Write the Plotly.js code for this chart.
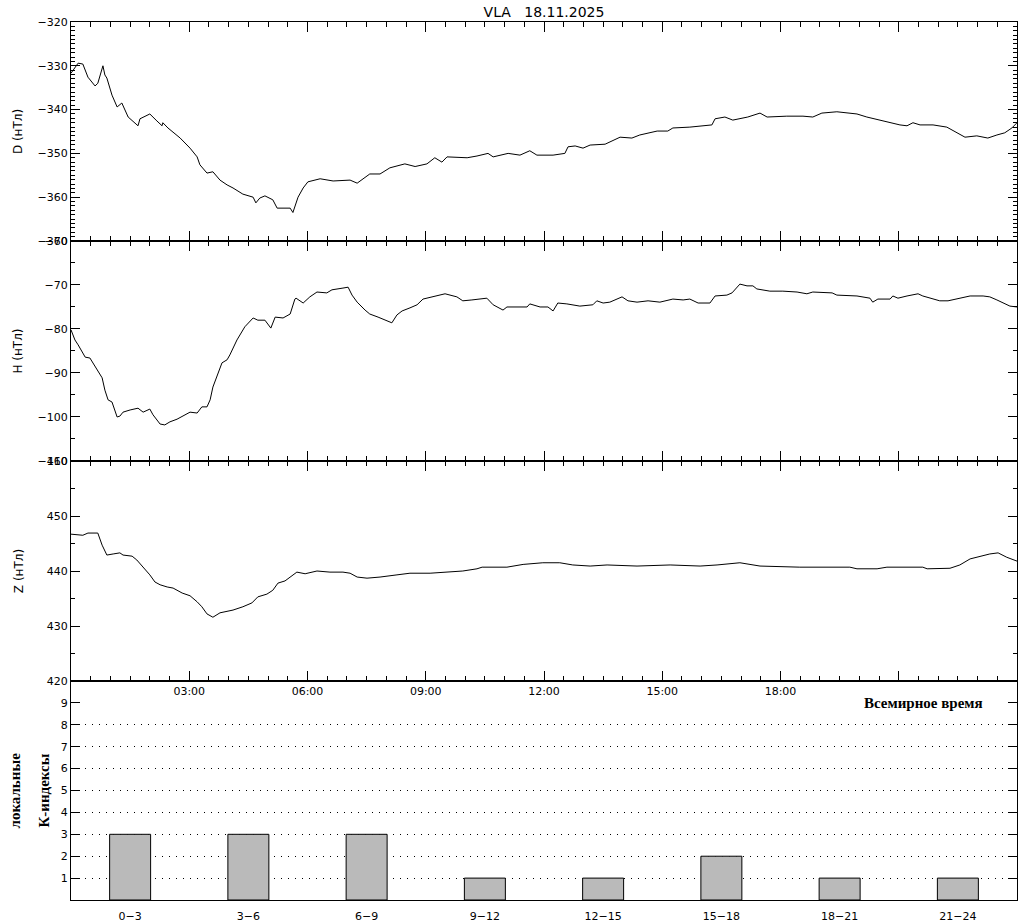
<!DOCTYPE html>
<html>
<head>
<meta charset="utf-8">
<script src="https://cdn.plot.ly/plotly-3.0.1.min.js"></script>
<style>html,body{margin:0;padding:0;background:#fff;}#chart{width:1024px;height:921px;}</style>
</head>
<body>
<div id="chart"></div>
<script>
// ---- data (hours UT, nT) ----
const hoursD = [0.00,0.18,0.30,0.43,0.61,0.68,0.81,0.86,0.91,1.04,1.17,1.29,1.45,1.70,1.75,2.00,2.18,2.31,2.33,2.46,2.77,3.02,3.20,3.27,3.45,3.60,3.78,3.96,4.11,4.36,4.62,4.69,4.79,4.92,5.12,5.23,5.48,5.56,5.63,5.76,5.89,6.01,6.32,6.65,7.08,7.26,7.58,7.84,8.09,8.47,8.73,9.03,9.23,9.41,9.54,10.05,10.30,10.58,10.71,11.09,11.39,11.64,11.82,12.23,12.53,12.61,12.79,12.99,13.17,13.55,13.93,14.23,14.43,14.87,15.14,15.27,15.70,16.13,16.26,16.34,16.59,16.79,17.17,17.48,17.66,18.16,18.57,18.82,19.05,19.43,19.69,19.94,20.19,20.52,20.78,21.03,21.21,21.36,21.54,21.87,22.22,22.48,22.68,22.98,23.26,23.49,23.69,23.87,24.00];
const valsD = [-331.7,-329.4,-329.6,-332.6,-334.6,-334.0,-330.0,-332.1,-332.8,-336.7,-339.4,-338.5,-341.7,-343.7,-342.1,-341.0,-342.6,-343.7,-343.0,-344.2,-346.5,-348.8,-350.8,-352.6,-354.5,-354.2,-356.1,-357.2,-357.9,-359.3,-360.0,-361.3,-360.2,-359.7,-360.6,-362.5,-362.5,-362.5,-363.5,-360.0,-357.9,-356.5,-355.8,-356.3,-356.1,-356.8,-354.7,-354.7,-353.3,-352.4,-353.0,-352.4,-351.0,-352.0,-350.8,-351.0,-350.6,-350.0,-350.8,-350.0,-350.4,-349.4,-350.4,-350.4,-350.0,-348.5,-348.3,-348.8,-348.1,-347.9,-346.3,-346.5,-345.8,-344.9,-344.9,-344.2,-344.0,-343.5,-343.5,-342.1,-341.7,-342.4,-341.7,-340.8,-341.7,-341.5,-341.5,-341.7,-340.8,-340.5,-340.8,-341.0,-341.7,-342.4,-343.0,-343.5,-343.7,-343.0,-343.5,-343.5,-344.0,-345.3,-346.3,-346.0,-346.5,-345.8,-345.3,-344.2,-343.0];

const hoursH = [0.00,0.10,0.18,0.36,0.48,0.61,0.79,0.86,0.94,1.04,1.17,1.24,1.32,1.50,1.70,1.83,2.00,2.08,2.18,2.26,2.38,2.51,2.69,2.84,3.02,3.20,3.32,3.45,3.53,3.60,3.73,3.83,3.96,4.03,4.21,4.41,4.62,4.74,4.92,5.07,5.18,5.38,5.56,5.68,5.71,5.89,6.06,6.24,6.49,6.62,6.90,7.03,7.13,7.26,7.46,7.58,7.79,7.97,8.14,8.27,8.40,8.60,8.78,8.93,9.18,9.49,9.79,9.94,10.17,10.55,10.71,10.96,11.06,11.31,11.57,11.64,11.90,12.10,12.23,12.35,12.58,12.91,13.24,13.34,13.50,13.67,13.98,14.13,14.36,14.64,14.94,15.27,15.53,15.70,15.91,16.21,16.34,16.64,16.77,16.97,17.15,17.30,17.40,17.73,18.06,18.42,18.67,18.82,19.31,19.43,19.94,20.27,20.34,20.47,20.78,20.85,20.98,21.21,21.49,21.61,21.92,22.04,22.25,22.55,22.81,23.14,23.31,23.49,23.64,23.82,24.00];
const valsH = [-80.2,-82.5,-83.6,-86.4,-86.6,-88.6,-91.1,-93.9,-96.1,-96.6,-100.0,-99.8,-98.9,-98.4,-98.0,-98.9,-98.2,-99.5,-100.7,-101.6,-101.8,-101.1,-100.5,-99.8,-98.9,-99.1,-97.7,-97.7,-96.1,-93.2,-90.0,-87.7,-87.0,-85.9,-82.5,-79.5,-77.5,-78.0,-78.0,-79.8,-77.3,-77.5,-76.6,-73.2,-73.0,-74.1,-72.7,-71.6,-71.8,-71.1,-70.7,-70.5,-72.3,-73.9,-75.7,-76.6,-77.3,-78.0,-78.6,-76.8,-75.9,-75.2,-74.5,-73.2,-72.7,-72.0,-72.7,-73.6,-73.4,-73.0,-74.5,-75.7,-75.0,-75.0,-75.0,-74.3,-75.0,-75.0,-75.9,-74.1,-74.3,-74.8,-74.5,-73.6,-74.1,-73.9,-72.7,-73.6,-73.9,-73.6,-73.9,-73.2,-73.4,-73.2,-74.1,-74.1,-72.5,-72.3,-71.8,-69.8,-70.2,-70.2,-70.9,-71.4,-71.4,-71.6,-72.0,-71.6,-71.8,-72.3,-72.5,-73.0,-73.9,-73.2,-73.2,-72.5,-73.0,-72.5,-72.0,-72.5,-73.4,-73.6,-73.6,-73.0,-72.5,-72.5,-72.7,-73.4,-74.1,-74.8,-75.0];

const hoursZ = [0.00,0.30,0.43,0.68,0.79,0.91,1.07,1.24,1.32,1.55,1.67,1.83,2.00,2.13,2.26,2.44,2.59,2.82,3.02,3.20,3.32,3.45,3.60,3.78,3.96,4.11,4.36,4.59,4.74,4.97,5.12,5.25,5.43,5.61,5.73,5.94,6.24,6.57,6.90,7.08,7.26,7.51,7.84,8.27,8.60,9.11,9.61,9.94,10.30,10.43,11.06,11.47,11.97,12.40,12.73,13.17,13.60,14.36,15.20,15.96,16.39,16.97,17.48,18.49,19.76,19.94,20.45,20.70,21.61,21.72,22.30,22.55,22.81,23.06,23.31,23.52,23.74,24.00];
const valsZ = [446.7,446.5,446.9,446.9,444.7,442.9,443.1,443.3,442.9,442.7,442.0,440.7,439.3,438.0,437.5,437.1,436.9,436.0,435.5,434.4,433.5,432.2,431.6,432.4,432.7,432.9,433.5,434.2,435.3,435.8,436.5,437.8,438.2,439.1,439.8,439.5,440.0,439.8,439.8,439.6,438.9,438.7,438.9,439.3,439.6,439.6,439.8,440.0,440.4,440.7,440.7,441.2,441.5,441.5,441.1,440.9,441.1,440.9,441.1,440.9,441.1,441.5,440.9,440.7,440.7,440.4,440.4,440.7,440.7,440.4,440.5,441.1,442.2,442.7,443.1,443.3,442.5,441.8];

const kLabels = ['0\u22123','3\u22126','6\u22129','9\u221212','12\u221215','15\u221218','18\u221221','21\u221224'];
const kMid = [1.5,4.5,7.5,10.5,13.5,16.5,19.5,22.5];
const kValues = [3,3,3,1,1,2,1,1];
const kTicks = [1,2,3,4,5,6,7,8,9];
const kGridLevels = [1,2,3,4,5,6,7,8];

const timeTickVals = [3,6,9,12,15,18,21];
const timeTickText = ['03:00','06:00','09:00','12:00','15:00','18:00',''];

// ---- figure ----
const BLK = 'black';
const tickFont = {family:'DejaVu Sans', size:11, color:BLK};
const titleFont = {family:'DejaVu Sans', size:12, color:BLK};
const serifBold = {family:'Liberation Serif', size:15, color:BLK, weight:'bold'};

function xAxis(anchor, labels) {
  const a = {
    domain:[0,1], anchor:anchor, range:[0,24], showline:true, linecolor:BLK, linewidth:1,
    mirror:'ticks', ticks:'inside', ticklen:10, tickcolor:BLK, tickwidth:1,
    showgrid:false, zeroline:false, tickfont:tickFont,
    minor:{tickmode:'linear', tick0:0, dtick:0.5, ticks:'inside', ticklen:5, tickcolor:BLK, showgrid:false}
  };
  if (labels) { a.tickmode='array'; a.tickvals=timeTickVals; a.ticktext=timeTickText; a.showticklabels=true; }
  else { a.tickmode='linear'; a.tick0=0; a.dtick=3; a.showticklabels=false; }
  return a;
}
function yAxis(anchor, domain, range, dtick, minorDtick, title, standoff) {
  return {
    domain:domain, anchor:anchor, range:range, tickmode:'linear', tick0:range[0], dtick:dtick,
    ticks:'inside', ticklen:9, tickcolor:BLK, mirror:'ticks', showline:true, linecolor:BLK, linewidth:1,
    showgrid:false, zeroline:false, tickfont:tickFont,
    minor:{tickmode:'linear', tick0:range[0], dtick:minorDtick, ticks:'inside', ticklen:4, tickcolor:BLK, showgrid:false},
    title:{text:title, font:titleFont, standoff:standoff}
  };
}

const traces = [
  {type:'scatter', mode:'lines', x:hoursD, y:valsD, xaxis:'x', yaxis:'y', line:{color:BLK, width:1}, hoverinfo:'skip'},
  {type:'scatter', mode:'lines', x:hoursH, y:valsH, xaxis:'x2', yaxis:'y2', line:{color:BLK, width:1}, hoverinfo:'skip'},
  {type:'scatter', mode:'lines', x:hoursZ, y:valsZ, xaxis:'x3', yaxis:'y3', line:{color:BLK, width:1}, hoverinfo:'skip'},
  // empty trace that registers the grid axis (draws nothing)
  {type:'scatter', mode:'lines', x:[], y:[], xaxis:'x4', yaxis:'y5', hoverinfo:'skip'},
  {type:'bar', x:kMid, y:kValues, width:1.04, xaxis:'x4', yaxis:'y4',
   marker:{color:'#bababa', line:{color:BLK, width:1}}, hoverinfo:'skip'}
];

const layout = {
  width:1024, height:921,
  margin:{l:71, r:7, t:22, b:21, pad:0},
  paper_bgcolor:'#ffffff', plot_bgcolor:'#ffffff',
  showlegend:false,
  font:{family:'DejaVu Sans', size:11, color:BLK},
  title:{text:'VLA\u00a0\u00a0\u00a018.11.2025', x:0.5, xref:'paper', xanchor:'center',
         y:1-12/921, yref:'container', yanchor:'middle',
         font:{family:'DejaVu Sans', size:14, color:BLK}},
  xaxis: xAxis('y', false),
  xaxis2: xAxis('y2', false),
  xaxis3: xAxis('y3', true),
  xaxis4: {domain:[0,1], anchor:'y4', range:[0,24], showline:true, linecolor:BLK, linewidth:1, mirror:true,
           ticks:'', tickmode:'array', tickvals:kMid, ticktext:kLabels, tickfont:tickFont,
           showgrid:false, zeroline:false, ticklabelstandoff:6},
  yaxis:  yAxis('x',  [0.7506,1],      [-370,-320], 10, 1, 'D (нТл)', 12),
  yaxis2: yAxis('x2', [0.5,0.7506],    [-110,-60],  10, 5, 'H (нТл)', 12),
  yaxis3: yAxis('x3', [0.2494,0.5],    [420,460],   10, 5, 'Z (нТл)', 20),
  yaxis4: {domain:[0,0.2494], anchor:'x4', range:[0,10], tickmode:'array', tickvals:kTicks,
           ticks:'inside', ticklen:9, tickcolor:BLK, mirror:'ticks', showline:true, linecolor:BLK, linewidth:1,
           showgrid:false, zeroline:false, tickfont:tickFont,
           title:{text:'К-индексы', font:serifBold, standoff:7}},
  yaxis5: {overlaying:'y4', anchor:'x4', side:'left', range:[0,10], tickmode:'array', tickvals:kGridLevels,
           showgrid:true, gridcolor:BLK, gridwidth:1, griddash:'1px,6px', ticks:'', showticklabels:false,
           showline:false, zeroline:false},
  annotations:[
    {text:'локальные', xref:'paper', yref:'paper', x:(15-71)/946, y:0.1247, xanchor:'center', yanchor:'middle',
     textangle:-90, showarrow:false, font:serifBold},
    {text:'Всемирное время', xref:'x4', yref:'y4', x:21.63, y:9, xanchor:'center', yanchor:'middle',
     showarrow:false, font:serifBold}
  ]
};

Plotly.newPlot('chart', traces, layout, {displayModeBar:false, staticPlot:true});
</script>
</body>
</html>
